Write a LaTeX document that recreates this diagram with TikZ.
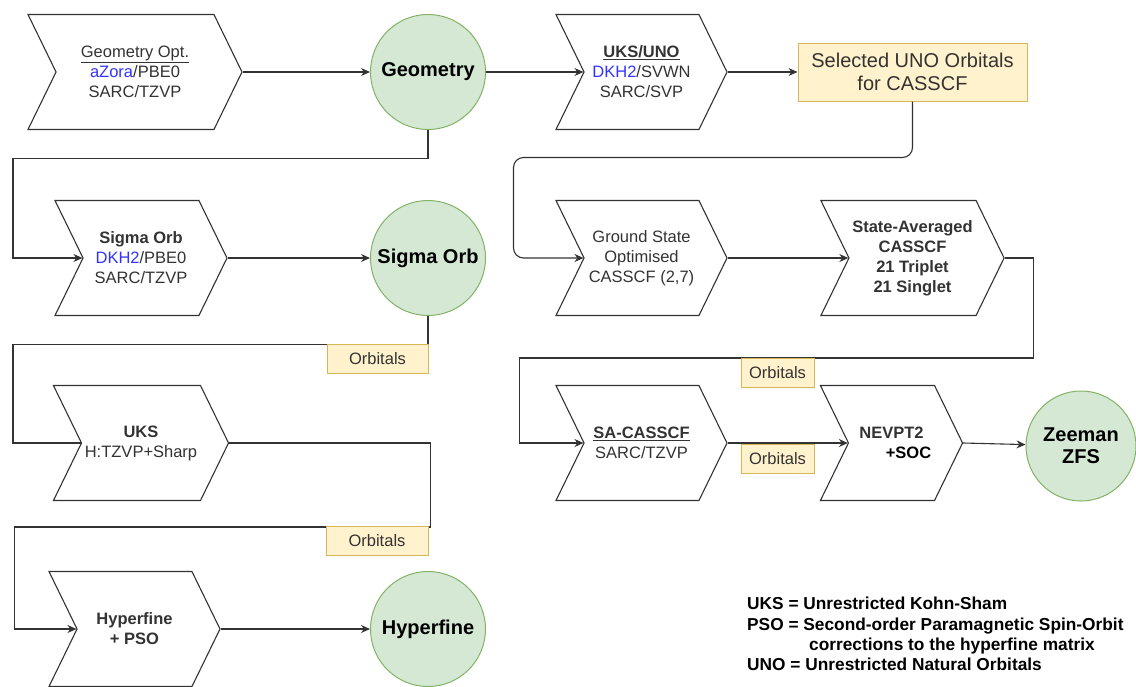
\documentclass[tikz,border=0pt]{standalone}
\usepackage{fontspec}
\setmainfont{Liberation Sans}
\usetikzlibrary{shapes.symbols, arrows.meta}

\definecolor{resfill}{HTML}{D5E8D4}
\definecolor{resedge}{HTML}{82B366}
\definecolor{notefill}{HTML}{FFF2CC}
\definecolor{noteedge}{HTML}{D6B656}
\definecolor{funcblue}{HTML}{3333FF}
\definecolor{ink}{HTML}{333333}

\newcommand{\stagefont}{\fontsize{16.5}{20}\selectfont}
\newcommand{\resfont}{\fontsize{20}{22}\selectfont\bfseries}
\newcommand{\keyfont}{\fontsize{17.3}{20.3}\selectfont\bfseries}
\newcommand{\fnl}[1]{\textcolor{funcblue}{#1}}

\begin{document}
\begin{tikzpicture}[x=1pt, y=-1pt,
    stage/.style={signal, signal from=west, signal to=east, signal pointer angle=128,
      draw=ink, line width=1.1pt, fill=white, minimum height=115pt,
      align=center, text=ink, font=\stagefont},
    result/.style={circle, draw=resedge, line width=1pt, fill=resfill,
      minimum size=115pt, align=center, text=black, font=\resfont},
    note/.style={draw=noteedge, line width=1pt, fill=notefill, text=ink,
      minimum height=29pt, inner sep=0pt, font=\stagefont},
    flow/.style={-{Stealth[length=9pt, width=8pt]}, line width=1.1pt, draw=ink},
    link/.style={line width=1.1pt, draw=ink}]
  \useasboundingbox (0,0) rectangle (1136,686);
  % Geometry / UKS-UNO row
  \node[stage, minimum width=214pt] (geoopt) at (135,72) {\underline{Geometry Opt.}\\\fnl{aZora}/PBE0\\SARC/TZVP};
  \node[result] (geom) at (428,72) {Geometry};
  \node[stage, minimum width=171pt] (uksuno) at (641.5,72) {\textbf{\underline{UKS/UNO}}\\\fnl{DKH2}/SVWN\\SARC/SVP};
  \node[note, minimum width=229pt, minimum height=58pt, align=center, font=\fontsize{20}{23}\selectfont] (unosel) at (912.5,72) {Selected UNO Orbitals\\for CASSCF};
  % Sigma / CASSCF row
  \node[stage, minimum width=172pt] (sigopt) at (141,258) {\textbf{Sigma Orb}\\\fnl{DKH2}/PBE0\\SARC/TZVP};
  \node[result] (sigorb) at (428,258) {Sigma Orb};
  \node[stage, minimum width=171pt] (gsopt) at (641.5,258) {Ground State\\Optimised\\CASSCF (2,7)};
  \node[stage, minimum width=171pt, font=\stagefont\bfseries] (sacas) at (912.5,258) {State-Averaged\\CASSCF\\21 Triplet\\21 Singlet};
  % UKS / SA-CASSCF row
  \node[stage, minimum width=172pt] (uks) at (141,443) {\textbf{UKS}\\H:TZVP+Sharp};
  \node[stage, minimum width=171pt] (sacasscf) at (641.5,443) {\textbf{\underline{SA-CASSCF}}\\SARC/TZVP};
  \node[stage, minimum width=129pt, font=\stagefont\bfseries] (nevpt) at (891.5,443) {NEVPT2\\\hspace*{34pt}\textcolor{black}{+SOC}};
  \node[result, minimum size=110pt] (zeeman) at (1081,446) {Zeeman\\ZFS};
  % Hyperfine row
  \node[stage, minimum width=171pt, font=\stagefont\bfseries] (hypopt) at (134.5,629) {Hyperfine\\+ PSO};
  \node[result] (hyperfine) at (428,629) {Hyperfine};
  % Connectors
  \draw[flow] (geoopt.east) -- (geom);
  \draw[flow] (geom) -- (uksuno.west);
  \draw[flow] (uksuno.east) -- (unosel);
  \draw[flow] (geom.south) |- ++(-415,28.5) |- (sigopt.west);
  \draw[flow] (sigopt.east) -- (sigorb);
  \draw[link] (sigorb.south) |- ++(-415,28.5) |- (uks.west);
  \draw[flow] (uks.east) -| ++(201,84) -- ++(-416,0) |- (hypopt.west);
  \draw[flow] (hypopt.east) -- (hyperfine);
  \draw[flow, rounded corners=10pt] (unosel.south) |- ++(-399,56) |- (gsopt.west);
  \draw[flow] (gsopt.east) -- (sacas.west);
  \draw[flow] (sacas.east) -| ++(29,100) -- ++(-514,0) |- (sacasscf.west);
  \draw[flow] (sacasscf.east) -- (nevpt.west);
  \draw[flow] (nevpt.east) -- (zeeman);
  % Orbital labels
  \node[note, minimum width=101pt] (orbsig) at (377.5,358.5) {Orbitals};
  \node[note, minimum width=102pt] (orbuks) at (377,541) {Orbitals};
  \node[note, minimum width=73pt] (orbsa) at (777.5,372.5) {Orbitals};
  \node[note, minimum width=73pt] (orbnev) at (777.5,459) {Orbitals};
  % Abbreviations
  \node[anchor=north west, align=left, inner sep=0pt, font=\keyfont] (key) at (747,597) {UKS = Unrestricted Kohn-Sham\\PSO = Second-order Paramagnetic Spin-Orbit\\\hspace*{62pt}corrections to the hyperfine matrix\\UNO = Unrestricted Natural Orbitals};
\end{tikzpicture}
\end{document}
